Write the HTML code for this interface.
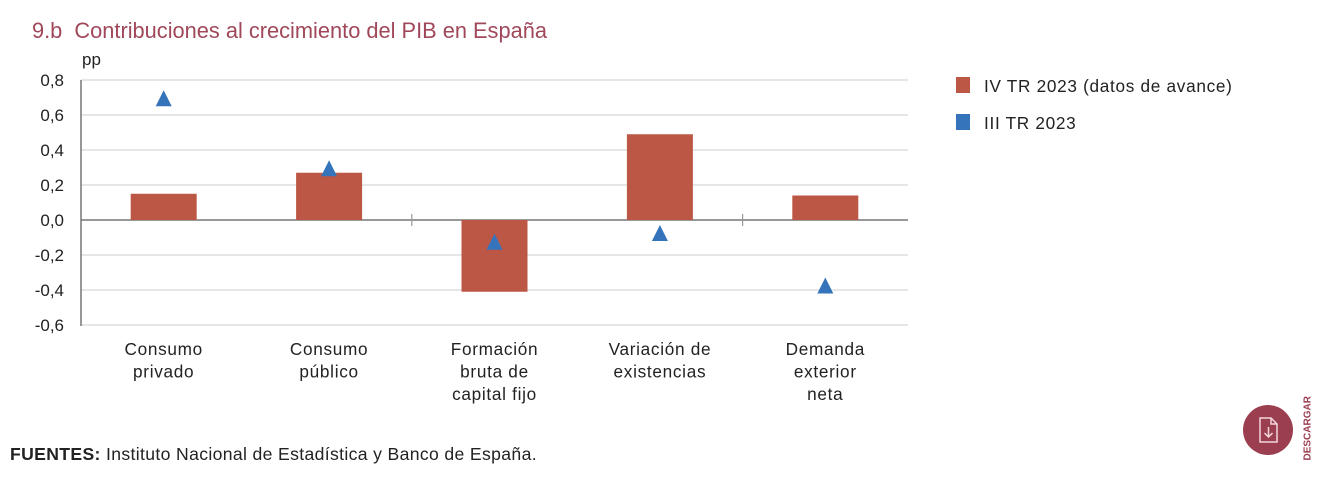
<!DOCTYPE html>
<html><head><meta charset="utf-8"><style>
body{margin:0;width:1335px;height:480px;background:#fff;font-family:"Liberation Sans",sans-serif;overflow:hidden;position:relative}
.t{position:absolute;white-space:nowrap}
</style></head><body>
<div class="t" style="left:32px;top:18px;font-size:21.8px;color:#a0485a">9.b&nbsp; Contribuciones al crecimiento del PIB en España</div>
<svg id="c" width="1335" height="480" style="position:absolute;left:0;top:0"></svg>
<div class="t" style="left:10px;top:444px;font-size:17.6px;letter-spacing:0.35px;color:#222"><b>FUENTES:</b> Instituto Nacional de Estadística y Banco de España.</div>
<div style="position:absolute;left:1243px;top:405px;width:50px;height:50px;border-radius:50%;background:#9b3f50">
<svg width="50" height="50"><path d="M17 13h11l6 6v18h-17z M28 13v6h6" fill="none" stroke="#f3d6dc" stroke-width="1.5"/><path d="M25.5 22v10 M21.5 28l4 4 4-4" fill="none" stroke="#f3d6dc" stroke-width="1.5"/></svg></div>
<div class="t" style="left:1278px;top:425px;transform:rotate(-90deg);font-size:10px;font-weight:bold;color:#9b3f50;width:60px;text-align:center">DESCARGAR</div>
<script>
const categories=[["Consumo","privado"],["Consumo","público"],["Formación","bruta de","capital fijo"],["Variación de","existencias"],["Demanda","exterior","neta"]];
const q4Values=[0.15,0.27,-0.41,0.49,0.14];
const q3Values=[0.69,0.29,-0.13,-0.08,-0.38];
const yTicks=[0.8,0.6,0.4,0.2,0.0,-0.2,-0.4,-0.6];
const legendLabels=["IV TR 2023 (datos de avance)","III TR 2023"];
const svg=document.getElementById('c');const NS='http://www.w3.org/2000/svg';
const X0=81,X1=908,Y0=80,Y1=325,vmax=0.8,vmin=-0.6;
const y=v=>Y0+(vmax-v)/(vmax-vmin)*(Y1-Y0);
const cw=(X1-X0)/categories.length;const xc=i=>X0+cw*(i+0.5);
function mk(t,a,txt){const e=document.createElementNS(NS,t);for(const k in a)e.setAttribute(k,a[k]);if(txt!==undefined)e.textContent=txt;svg.appendChild(e);return e;}
yTicks.forEach(v=>{
const l=mk('line',{x1:X0,x2:X1,y1:y(v),y2:y(v),stroke:v===0?'#777':'#ccc','stroke-width':v===0?1.5:1});


const t=mk('text',{x:64,y:y(v)+6,'text-anchor':'end','font-size':17,fill:'#222'},v.toFixed(1).replace('.',','));


});
const ax=mk('line',{x1:X0,x2:X0,y1:Y0,y2:Y1+1,stroke:'#777','stroke-width':1.5});


const pp=mk('text',{x:82,y:65,'font-size':17,fill:'#222'},'pp');


[2,4].forEach(i=>{const tk=mk('line',{x1:X0+cw*i,x2:X0+cw*i,y1:y(0)-6,y2:y(0)+6,stroke:'#999','stroke-width':1.2});

});
categories.forEach((c,i)=>{
const v=q4Values[i];const b=mk('rect',{x:xc(i)-33,width:66,y:Math.min(y(v),y(0)),height:Math.abs(y(v)-y(0)),fill:'#bd5745'});


const tx=xc(i),ty=y(q3Values[i]);
const p=mk('polygon',{points:`${tx},${ty-9} ${tx-8},${ty+7} ${tx+8},${ty+7}`,fill:'#3574bb'});


c.forEach((s,j)=>{const t=mk('text',{x:tx,y:355+j*22.5,'text-anchor':'middle','font-size':17.2,'letter-spacing':0.7,fill:'#222'},s);

});
});
legendLabels.forEach((s,i)=>{
const ly=86+i*37;
const r=mk('rect',{x:956,y:ly-9,width:14,height:16,fill:i?'#3574bb':'#bd5745'});


const t=mk('text',{x:984,y:ly+6,'font-size':17.2,'letter-spacing':0.7,fill:'#222'},s);


});
</script>
</body></html>
